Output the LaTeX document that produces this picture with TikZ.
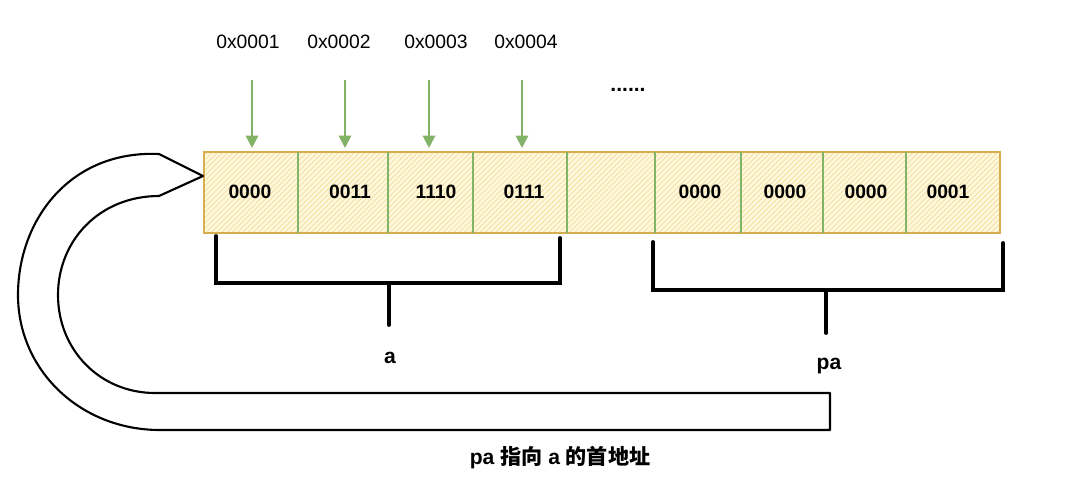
\documentclass[tikz,border=0pt]{standalone}
\usepackage{fontspec}
\setmainfont{Liberation Sans}
\newfontfamily\cjk{Noto Sans CJK SC}
\usetikzlibrary{patterns,arrows.meta}
\definecolor{hatch}{HTML}{F2DC9A}
\definecolor{boxfill}{HTML}{FFF8DC}
\definecolor{boxline}{HTML}{D6AE4E}
\definecolor{grn}{HTML}{82B366}
\tikzset{
 cell/.style={font=\bfseries\fontsize{11}{13}\selectfont},
 addr/.style={font=\fontsize{11}{13}\selectfont},
 lbl/.style={font=\bfseries\fontsize{12}{14}\selectfont},
 ptr/.style={-{Triangle[length=7pt,width=7pt]},grn,line width=1.1pt},
 brk/.style={line width=2.2pt,line cap=round},
 hand/.style={line width=1.2pt}
}
\begin{document}
\begin{tikzpicture}[x=0.02cm,y=-0.02cm]
\useasboundingbox (0,0) rectangle (1080,491);
\fill[boxfill] (204,152) rectangle (1000,233);
\fill[pattern=north east lines,pattern color=hatch] (204,152) rectangle (1000,233);
\draw[boxline,line width=1.3pt] (204,152) rectangle (1000,233);
\foreach \x in {298,388,473,567,655,741,823,906}
  \draw[grn,line width=0.8pt] (\x,152) -- (\x,233);
\foreach \x/\t/\n in {250/0000/c1,350/0011/c2,436/1110/c3,524/0111/c4,700/0000/c5,785/0000/c6,866/0000/c7,948/0001/c8}
  \node[cell] (\n) at (\x,192) {\t};
\foreach \x/\ax/\t/\n in {252/248/0x0001/a1,345/339/0x0002/a2,429/436/0x0003/a3,522/526/0x0004/a4}{
  \node[addr] (\n) at (\ax,42) {\t};
  \coordinate (\n s) at (\x,80);
  \coordinate (\n e) at (\x,148);
  \draw[ptr] (\n s) -- (\n e);
}
\node[lbl] (dots) at (628,90) {......};
% bracket a
\draw[brk] (216,236) -- (216,283) -- (560,283) -- (560,238);
\draw[brk] (389,283) -- (389,325);
\node[lbl] (la) at (390,358) {a};
% bracket pa
\draw[brk] (653,242) -- (653,290) -- (1003,290) -- (1003,243);
\draw[brk] (826,290) -- (826,333);
\node[lbl] (lpa) at (829,366) {pa};
% big hollow arrow
\coordinate (tip) at (203,176);
\draw[hand,line join=round] (830,393) -- (155,393)
  .. controls (100,393) and (58,350) .. (58,295)
  .. controls (58,240) and (100,196) .. (159,196) -- (tip) -- (159,154)
  .. controls (70,150) and (18,220) .. (18,295)
  .. controls (18,370) and (80,430) .. (160,430) -- (830,430) -- cycle;
\node[lbl] (cap) at (560,458) {pa {\cjk 指向} a {\cjk 的首地址}};
\end{tikzpicture}
\end{document}
